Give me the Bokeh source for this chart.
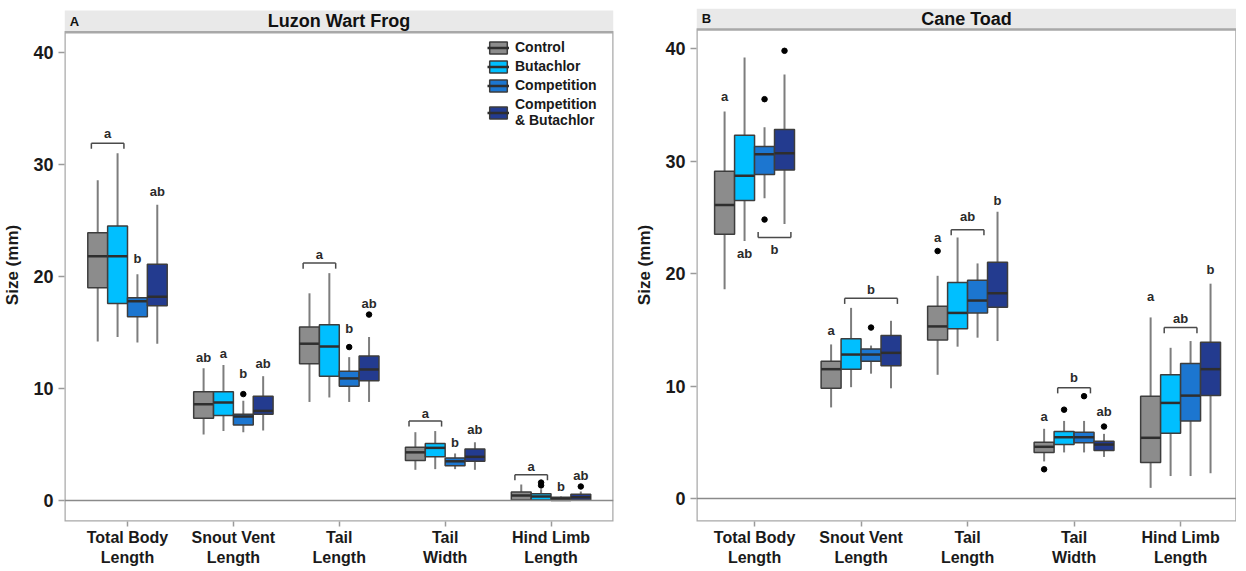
from bokeh.plotting import figure
from bokeh.models import (ColumnDataSource, FixedTicker, Range1d, Span,
                          Legend, LegendItem)
from bokeh.layouts import row
from bokeh.embed import file_html
from bokeh.resources import INLINE
from bokeh.core.properties import value

FONT = "Liberation Sans"

categories = ["Total Body\nLength", "Snout Vent\nLength", "Tail\nLength",
              "Tail\nWidth", "Hind Limb\nLength"]
groups = ["Control", "Butachlor", "Competition", "Competition\n& Butachlor"]
colors = ["#8c8c8c", "#00bfff", "#1c76d0", "#233b8f"]

# ---- Luzon Wart Frog (rows = categories, columns = groups) ----
frog_low = [[14.2, 14.6, 14.1, 14.0], [5.9, 6.2, 6.1, 6.25], [8.8, 9.2, 8.8, 8.8],
            [2.74, 2.8, 2.8, 2.74], [0.0, 0.0, 0.0, 0.0]]
frog_q1 = [[19.0, 17.6, 16.4, 17.4], [7.35, 7.6, 6.75, 7.7], [12.2, 11.1, 10.2, 10.7],
           [3.57, 3.9, 3.1, 3.5], [0.05, 0.05, 0.0, 0.05]]
frog_med = [[21.8, 21.8, 17.8, 18.2], [8.6, 8.75, 7.5, 8.0], [14.0, 13.75, 10.9, 11.7],
            [4.3, 4.7, 3.5, 3.9], [0.45, 0.35, 0.15, 0.3]]
frog_q3 = [[23.9, 24.5, 18.1, 21.1], [9.7, 9.7, 7.7, 9.3], [15.5, 15.7, 11.55, 12.9],
           [4.76, 5.1, 3.8, 4.6], [0.75, 0.6, 0.3, 0.55]]
frog_high = [[28.6, 31.0, 20.2, 26.4], [11.8, 12.1, 8.9, 11.1], [18.5, 20.3, 12.8, 14.6],
             [6.1, 6.2, 4.2, 5.2], [1.43, 1.0, 0.35, 0.8]]
frog_out_cat = [1, 2, 2, 4, 4, 4]
frog_out_grp = [2, 2, 3, 1, 1, 3]
frog_out_val = [9.5, 13.7, 16.6, 1.35, 1.6, 1.25]
# significance letters: category, first group, last group, text y, letter, bracket y (None = no bracket)
frog_note_cat = [0, 0, 0, 1, 1, 1, 1, 2, 2, 2, 3, 3, 3, 4, 4, 4]
frog_note_g0 = [0, 2, 3, 0, 1, 2, 3, 0, 2, 3, 0, 2, 3, 0, 2, 3]
frog_note_g1 = [1, 2, 3, 0, 1, 2, 3, 1, 2, 3, 1, 2, 3, 1, 2, 3]
frog_note_y = [32.8, 21.6, 27.6, 12.8, 13.1, 11.3, 12.2, 22.0, 15.4, 17.6, 7.8, 5.2, 6.3, 3.0, 1.25, 2.2]
frog_note_txt = ["a", "b", "ab", "ab", "a", "b", "ab", "a", "b", "ab", "a", "b", "ab", "a", "b", "ab"]
frog_note_br = [31.9, None, None, None, None, None, None, 21.2, None, None, 7.1, None, None, 2.3, None, None]

# ---- Cane Toad ----
toad_low = [[18.6, 22.9, 26.7, 24.4], [8.1, 9.9, 11.1, 9.8], [11.0, 13.5, 14.3, 14.0],
            [3.3, 4.1, 4.1, 3.7], [0.95, 2.0, 2.0, 2.25]]
toad_q1 = [[23.5, 26.5, 28.8, 29.2], [9.8, 11.5, 12.2, 11.8], [14.1, 15.1, 16.5, 17.0],
           [4.1, 4.8, 4.95, 4.27], [3.2, 5.8, 6.9, 9.15]]
toad_med = [[26.1, 28.7, 30.6, 30.7], [11.5, 12.8, 12.8, 12.95], [15.3, 16.5, 17.6, 18.25],
            [4.6, 5.45, 5.45, 4.8], [5.4, 8.5, 9.15, 11.5]]
toad_q3 = [[29.1, 32.3, 31.3, 32.8], [12.2, 14.2, 13.3, 14.5], [17.1, 19.2, 19.4, 21.0],
           [5.0, 5.96, 5.9, 5.1], [9.1, 11.0, 12.0, 13.9]]
toad_high = [[34.4, 39.2, 33.0, 37.7], [13.7, 16.95, 13.6, 15.8], [19.8, 23.2, 20.9, 25.5],
             [6.2, 6.9, 6.9, 5.75], [16.1, 13.4, 14.0, 19.1]]
toad_out_cat = [0, 0, 0, 1, 2, 3, 3, 3, 3]
toad_out_grp = [2, 2, 3, 2, 0, 0, 1, 2, 3]
toad_out_val = [35.5, 24.8, 39.8, 15.2, 22.0, 2.6, 7.9, 9.1, 6.4]
toad_note_cat = [0, 0, 0, 1, 1, 2, 2, 2, 3, 3, 3, 4, 4, 4]
toad_note_g0 = [0, 1, 2, 0, 1, 0, 1, 3, 0, 1, 3, 0, 1, 3]
toad_note_g1 = [0, 1, 3, 0, 3, 0, 2, 3, 0, 2, 3, 0, 2, 3]
toad_note_y = [35.7, 21.8, 22.1, 14.9, 18.6, 23.2, 25.1, 26.5, 7.3, 10.8, 7.7, 18.0, 16.0, 20.4]
toad_note_txt = ["a", "ab", "b", "a", "b", "a", "ab", "b", "a", "b", "ab", "a", "ab", "b"]
toad_note_br = [None, None, 23.2, None, 17.8, None, 23.9, None, None, 9.85, None, None, 15.2, None]

y_ticks = [0, 10, 20, 30, 40]

BOX_W = 0.1875
OFFSETS = [-0.28125, -0.09375, 0.09375, 0.28125]


def xpos(c, g):
    return c + 1 + OFFSETS[g]


def make_panel(title, letter, low, q1, med, q3, high, oc, og, ov,
               ncat, ng0, ng1, ny, ntxt, nbr, frame_w, frame_h, xr, yr,
               strip_top, ytop, legend, border_right):
    p = figure(frame_width=frame_w, frame_height=frame_h,
               x_range=Range1d(*xr), y_range=Range1d(yr[0], ytop),
               output_backend="svg", toolbar_location=None,
               min_border_top=8, min_border_left=0,
               min_border_right=border_right, min_border_bottom=0)
    p.grid.visible = False
    p.outline_line_color = None
    p.background_fill_color = "white"

    # facet strip (title band) above the panel
    p.quad(left=[xr[0]], right=[xr[1]], bottom=[yr[1]], top=[strip_top],
           fill_color="#e9e9e9", line_color=None)
    p.text(x=[(xr[0] + xr[1]) / 2], y=[(yr[1] + strip_top) / 2], text=[title],
           text_font=value(FONT), text_font_style="bold", text_font_size="18px",
           text_color="#111111", text_align="center", text_baseline="middle")
    p.text(x=[xr[0] + 0.05], y=[(yr[1] + strip_top) / 2], text=[letter],
           text_font=value(FONT), text_font_style="bold", text_font_size="13px",
           text_color="#111111", text_align="left", text_baseline="middle")
    # panel border
    p.quad(left=[xr[0]], right=[xr[1]], bottom=[yr[0]], top=[yr[1]],
           fill_color=None, line_color="#a8a8a8", line_width=2.5)

    for ax in (p.xaxis[0], p.yaxis[0]):
        ax.axis_line_color = None
        ax.major_tick_line_color = "#9a9a9a"
        ax.major_tick_line_width = 1.5
        ax.major_tick_out = 5
        ax.major_tick_in = 0
        ax.minor_tick_line_color = None
        ax.major_label_text_font = FONT
        ax.major_label_text_font_style = "bold"
        ax.major_label_text_color = "#1a1a1a"
    p.yaxis.ticker = FixedTicker(ticks=y_ticks)
    p.yaxis.major_label_text_font_size = "18px"
    p.yaxis.major_tick_out = 6
    p.yaxis.axis_label = "Size (mm)"
    p.yaxis.axis_label_text_font = FONT
    p.yaxis.axis_label_text_font_style = "bold"
    p.yaxis.axis_label_text_font_size = "17px"
    p.yaxis.axis_label_text_color = "#1a1a1a"
    p.yaxis.axis_label_standoff = 8
    p.xaxis.ticker = FixedTicker(ticks=[i + 1 for i in range(len(categories))])
    p.xaxis.major_label_overrides = {i + 1: c for i, c in enumerate(categories)}
    p.xaxis.major_label_text_font_size = "16px"
    p.xaxis.major_label_standoff = 2

    p.add_layout(Span(location=0, dimension="width", line_color="#8a8a8a",
                      line_width=1.5))

    box_renderers = []
    for g in range(len(groups)):
        xs = [xpos(c, g) for c in range(len(categories))]
        src = ColumnDataSource(dict(
            x=xs, x0=[x - BOX_W / 2 for x in xs], x1=[x + BOX_W / 2 for x in xs],
            low=[r[g] for r in low], q1=[r[g] for r in q1], med=[r[g] for r in med],
            q3=[r[g] for r in q3], high=[r[g] for r in high]))
        p.segment(x0="x", y0="low", x1="x", y1="q1", source=src,
                  line_color="#7d7d7d", line_width=2)
        p.segment(x0="x", y0="q3", x1="x", y1="high", source=src,
                  line_color="#7d7d7d", line_width=2)
        rb = p.vbar(x="x", width=BOX_W, bottom="q1", top="q3", source=src,
                    fill_color=colors[g], line_color="#3d3d3d", line_width=1.5)
        rm = p.segment(x0="x0", y0="med", x1="x1", y1="med", source=src,
                       line_color="#2e2e2e", line_width=2.5)
        box_renderers.append((rb, rm))

    p.scatter(x=[xpos(c, g) for c, g in zip(oc, og)], y=ov, size=5.5,
              color="black")

    # significance letters and brackets
    tx = [(xpos(c, a) + xpos(c, b)) / 2 for c, a, b in zip(ncat, ng0, ng1)]
    p.text(x=tx, y=ny, text=ntxt, text_font=value(FONT), text_font_style="bold",
           text_font_size="13px", text_color="#2a2a2a", text_align="center",
           text_baseline="middle")
    bx0, bx1, by, tk = [], [], [], []
    for c, a, b, yb, yt in zip(ncat, ng0, ng1, nbr, ny):
        if yb is None:
            continue
        bx0.append(xpos(c, a) - 0.06)
        bx1.append(xpos(c, b) + 0.06)
        by.append(yb)
        tk.append(yb - 0.5 if yt > yb else yb + 0.5)
    p.segment(x0=bx0, y0=by, x1=bx1, y1=by, line_color="#4a4a4a", line_width=1.5)
    p.segment(x0=bx0, y0=by, x1=bx0, y1=tk, line_color="#4a4a4a", line_width=1.5)
    p.segment(x0=bx1, y0=by, x1=bx1, y1=tk, line_color="#4a4a4a", line_width=1.5)

    if legend:
        dot = p.scatter(x=[], y=[], size=5, color="black")
        items = [LegendItem(label=groups[g],
                            renderers=[box_renderers[g][0], box_renderers[g][1], dot])
                 for g in range(len(groups))]
        lg = Legend(items=items, location=legend, border_line_color=None,
                    background_fill_alpha=1.0, label_text_font=FONT,
                    label_text_font_style="bold", label_text_font_size="14px",
                    label_text_color="#1a1a1a", glyph_width=22, glyph_height=15,
                    spacing=3, padding=4, margin=0, label_standoff=6,
                    label_height=15)
        p.add_layout(lg)
    return p


p1 = make_panel("Luzon Wart Frog", "A", frog_low, frog_q1, frog_med, frog_q3, frog_high,
                frog_out_cat, frog_out_grp, frog_out_val,
                frog_note_cat, frog_note_g0, frog_note_g1, frog_note_y, frog_note_txt,
                frog_note_br, 549, 513, (0.405, 5.59), (-1.875, 41.8), 43.75, 43.93,
                (423, 393), 19)
p2 = make_panel("Cane Toad", "B", toad_low, toad_q1, toad_med, toad_q3, toad_high,
                toad_out_cat, toad_out_grp, toad_out_val,
                toad_note_cat, toad_note_g0, toad_note_g1, toad_note_y, toad_note_txt,
                toad_note_br, 540, 513, (0.455, 5.525), (-2.04, 41.7), 43.56, 43.56,
                None, 0)

layout = row(p1, p2)
open("out.html", "w").write(file_html(layout, INLINE))
